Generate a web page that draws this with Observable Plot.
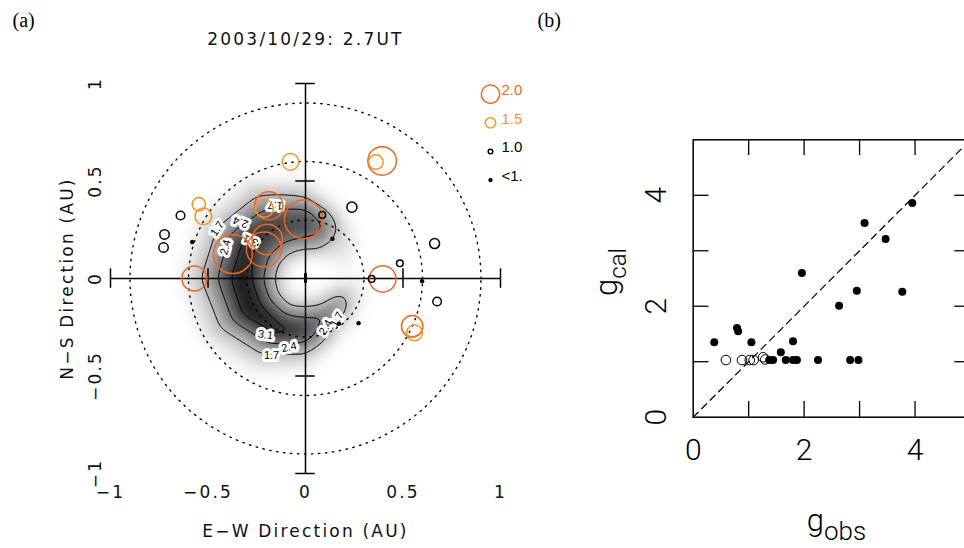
<!DOCTYPE html>
<html><head><meta charset="utf-8">
<script src="https://cdn.jsdelivr.net/npm/d3@7"></script>
<script src="https://cdn.jsdelivr.net/npm/@observablehq/plot@0.6"></script>
<style>
body{margin:0;background:#fff;}
#wrap{position:relative;width:964px;height:548px;overflow:hidden;background:#fff;}
#wrap svg{position:absolute;top:0;}
</style></head><body><div id="wrap"></div>
<script>
// ---------- Panel (a) data ----------
const titleA = "2003/10/29: 2.7UT";
const xTitleA = "E\u2212W Direction (AU)";
const yTitleA = "N\u2212S Direction (AU)";
const axTicks = [-1, -0.5, 0, 0.5, 1];
const axTickLabels = ["\u22121", "\u22120.5", "0", "0.5", "1"];
const crossTicks = [-1, -0.5, 0.5, 1];
const ringRadii = [0.3, 0.6, 0.9];

// field samples (polar layout: angle deg CCW from east, radius AU)
const fieldCenter = 0.85;
const fieldAngles = [0, 20, 40, 55, 70, 90, 120, 150, 180, 210, 240, 270, 300, 320, 335, 350];
const fieldRadii = [0.05, 0.12, 0.17, 0.22, 0.27, 0.32, 0.37, 0.43, 0.50, 0.58, 0.68];
const fieldValues = [
  [0.85,0.95,1.05,1.10,1.05,0.95,0.85,0.75,0.65,0.55,0.50],
  [0.85,0.95,1.05,1.10,1.05,0.95,0.85,0.75,0.65,0.55,0.50],
  [0.85,1.00,1.20,1.35,1.30,1.15,0.95,0.80,0.70,0.60,0.50],
  [0.85,1.05,1.35,1.55,1.60,1.45,1.15,0.90,0.75,0.60,0.50],
  [0.85,1.20,1.85,2.30,2.45,2.15,1.55,1.10,0.85,0.65,0.55],
  [0.90,1.30,1.90,2.50,2.85,2.80,2.25,1.55,1.15,0.85,0.60],
  [0.90,1.30,1.85,2.45,2.90,3.00,2.80,2.20,1.60,1.15,0.80],
  [0.90,1.30,1.80,2.40,2.85,3.20,3.25,2.60,1.85,1.30,0.90],
  [0.90,1.30,1.80,2.40,3.10,3.45,3.30,2.60,1.95,1.40,0.95],
  [0.90,1.30,1.75,2.50,3.20,3.50,3.20,2.40,1.70,1.25,0.85],
  [0.90,1.25,1.75,2.55,3.20,3.30,2.60,1.80,1.35,1.00,0.75],
  [0.90,1.35,2.00,2.70,3.05,2.50,1.85,1.30,1.00,0.80,0.60],
  [0.90,1.30,1.80,2.60,1.95,1.30,1.05,0.85,0.70,0.60,0.50],
  [0.90,1.25,1.75,2.25,1.60,1.20,0.95,0.80,0.70,0.60,0.50],
  [0.85,1.15,1.60,1.75,1.40,1.10,0.90,0.80,0.70,0.60,0.50],
  [0.85,1.00,1.20,1.30,1.20,1.00,0.85,0.75,0.65,0.55,0.50]
];
const fieldBackground = [[0.85, 0.45], [1.45, 0.40]];
const contourLevels = [1.7, 2.4, 3.1];
const contourLabels = [
  {x:-0.205, y:-0.289, t:"3.1", a:8},
  {x:-0.085, y:-0.352, t:"2.4", a:-12},
  {x:-0.174, y:-0.395, t:"1.7", a:0},
  {x:0.103, y:-0.250, t:"2.4", a:-60},
  {x:0.162, y:-0.210, t:"1.7", a:-62},
  {x:-0.453, y:0.255, t:"1.7", a:-55},
  {x:-0.333, y:0.289, t:"2.4", a:200},
  {x:-0.282, y:0.195, t:"3.1", a:205},
  {x:-0.410, y:0.160, t:"2.4", a:-75},
  {x:-0.155, y:0.375, t:"1.7", a:185}
];

// observation points (AU) and their g value
const ptX = [-0.570,-0.372,-0.213,-0.196,-0.188,-0.211,-0.009,-0.077,0.393,0.361,0.396,0.547,0.559,-0.547,-0.524,
             -0.641,-0.723,-0.728,0.238,0.662,0.484,0.339,0.675,0.086,
             -0.581,0.138,0.598,0.171,0.272];
const ptY = [0.000,0.125,0.149,0.200,0.373,0.359,0.303,0.598,0.603,0.597,-0.002,-0.245,-0.279,0.381,0.319,
             0.323,0.226,0.159,0.366,0.179,0.078,-0.002,-0.118,0.326,
             0.187,0.204,-0.014,-0.232,-0.229];
const ptG = [2.33,2.91,2.76,2.58,2.47,1.97,2.90,1.90,2.49,1.78,2.40,2.16,1.86,1.71,1.90,
             1.37,1.43,1.43,1.48,1.47,1.20,1.20,1.37,1.20,
             0.98,0.98,0.98,0.98,0.98];
const legendLabels = ["2.0", "1.5", "1.0", "<1."];
const legendG = [2.0, 1.5, 1.0, 0.98];

const RED = "#f26522", ORANGE = "#f7941d";
function kindOf(g) { return g >= 2 ? "red" : g >= 1.5 ? "orange" : g >= 1 ? "open" : "filled"; }
const kindColor = {red: RED, orange: ORANGE, open: "black", filled: "black"};

const pts = ptX.map((x, i) => ({x, y: ptY[i], g: ptG[i], k: kindOf(ptG[i])}));
const field = [{x: 0, y: 0, v: fieldCenter}];
fieldAngles.forEach((a, i) => fieldRadii.forEach((r, j) => field.push({
  x: r * Math.cos(a * Math.PI / 180), y: r * Math.sin(a * Math.PI / 180), v: fieldValues[i][j]})));
fieldBackground.forEach(([r, v]) => d3.range(0, 360, 30).forEach(a => field.push({
  x: r * Math.cos(a * Math.PI / 180), y: r * Math.sin(a * Math.PI / 180), v})));
const ringPts = ringRadii.flatMap(r => d3.range(0, 361, 1).map(a => ({r,
  x: r * Math.cos(a * Math.PI / 180), y: r * Math.sin(a * Math.PI / 180)})));

const tickHalf = 0.05;
const fontA = "'DejaVu Sans', 'Liberation Sans', sans-serif";
const txtA = {fontSize: 17, fontWeight: 400, fill: "#111", textAnchor: "middle", lineAnchor: "middle"};

const dotMarks = ["red", "orange", "open"].map(k => Plot.dot(pts.filter(d => d.k === k), {
  x: "x", y: "y", r: "g", stroke: kindColor[k], strokeWidth: 1.5, fill: "none"}));
dotMarks.push(Plot.dot(pts.filter(d => d.k === "filled"), {x: "x", y: "y", r: "g", fill: "black"}));

const legendMarks = legendLabels.flatMap((lab, i) => {
  const k = kindOf(legendG[i]);
  const dy = 10.8 + i * 28.6;
  return [
    Plot.dot([legendG[i]], {frameAnchor: "top-right", dx: -10, dy, r: d => d,
      stroke: k === "filled" ? "none" : kindColor[k], strokeWidth: 1.5, fill: k === "filled" ? "black" : "none"}),
    Plot.text([lab], {frameAnchor: "top-right", dx: 1, dy: dy - 4, text: d => d, textAnchor: "start",
      lineAnchor: "middle", fill: kindColor[k], fontSize: 15, fontFamily: "'Liberation Sans', sans-serif"})
  ];
});

const plotA = Plot.plot({
  width: 560, height: 548,
  marginLeft: 110, marginRight: 60, marginTop: 83, marginBottom: 75,
  x: {domain: [-1, 1], axis: null},
  y: {domain: [-1, 1], axis: null},
  color: {type: "linear", domain: [1.0, 3.45], range: ["#ffffff", "#161616"], clamp: true},
  r: {type: "pow", exponent: 2, domain: [0, 2], range: [0, 9.2]},
  style: {fontFamily: fontA, background: "transparent", overflow: "visible"},
  marks: [
    Plot.raster(field, {x: "x", y: "y", fill: "v", interpolate: "barycentric", pixelSize: 1, blur: 5}),
    Plot.contour(field, {x: "x", y: "y", value: "v", interpolate: "barycentric", thresholds: contourLevels,
      pixelSize: 2, blur: 2, fill: "none", stroke: "black", strokeWidth: 1}),
    Plot.text(contourLabels, {x: "x", y: "y", text: "t", rotate: "a", fontSize: 11,
      fontFamily: "'Liberation Sans', sans-serif", fill: "white", stroke: "white", strokeWidth: 6}),
    Plot.text(contourLabels, {x: "x", y: "y", text: "t", rotate: "a", fontSize: 11,
      fontFamily: "'Liberation Sans', sans-serif", fill: "black"}),
    Plot.line(ringPts, {x: "x", y: "y", z: "r", stroke: "black", strokeWidth: 1.4, strokeDasharray: "1.4 5.6"}),
    Plot.ruleY([0], {x1: -1, x2: 1, stroke: "black", strokeWidth: 1.5}),
    Plot.ruleX([0], {y1: -1, y2: 1, stroke: "black", strokeWidth: 1.5}),
    Plot.ruleX(crossTicks, {x: d => d, y1: -tickHalf, y2: tickHalf, stroke: "black", strokeWidth: 1.5}),
    Plot.ruleY(crossTicks, {y: d => d, x1: -tickHalf, x2: tickHalf, stroke: "black", strokeWidth: 1.5}),
    Plot.ruleX([0], {x: d => d, y1: -0.025, y2: 0.025, stroke: "black", strokeWidth: 3}),
    ...dotMarks,
    ...legendMarks,
    Plot.text(axTicks, {x: d => d, frameAnchor: "bottom", dy: 19, text: (d, i) => axTickLabels[i], ...txtA}),
    Plot.text(axTicks, {y: d => d, frameAnchor: "left", dx: -15, rotate: -90, text: (d, i) => axTickLabels[i], ...txtA}),
    Plot.text([xTitleA], {frameAnchor: "bottom", dy: 58, text: d => d, ...txtA}),
    Plot.text([yTitleA], {frameAnchor: "left", dx: -43, rotate: -90, text: d => d, ...txtA}),
    Plot.text([titleA], {frameAnchor: "top", dy: -44, text: d => d, ...txtA}),
    Plot.text(["(a)"], {frameAnchor: "top-left", dx: -98, dy: -63, text: d => d, fontSize: 20,
      textAnchor: "start", lineAnchor: "middle", fontFamily: "'Liberation Serif', 'DejaVu Serif', serif"})
  ]
});
plotA.style.left = "0px";
// wide glyph spacing of the original's plot font for title, axis titles and tick labels
const spaced = new Set([titleA, xTitleA, yTitleA, ...axTickLabels]);
d3.select(plotA).selectAll("text").each(function() {
  if (spaced.has(this.textContent)) this.setAttribute("letter-spacing", "2.2px");
});

// ---------- Panel (b) data ----------
const gObsFilled = [0.38,0.79,0.81,1.05,1.37,1.44,1.58,1.67,1.80,1.80,1.87,1.96,2.25,2.63,2.83,2.95,2.98,3.09,3.47,3.77,3.95];
const gCalFilled = [1.35,1.61,1.55,1.35,1.03,1.03,1.17,1.03,1.37,1.03,1.03,2.60,1.03,2.01,1.03,2.28,1.03,3.50,3.21,2.26,3.86];
const gObsOpen = [0.59,0.88,1.02,1.09,1.26,1.30];
const gCalOpen = [1.03,1.03,1.03,1.03,1.08,1.04];
const bDomain = [0, 5];
const bTicks = [1, 2, 3, 4];
const bLabelTicks = [0, 2, 4];
const bLabels = ["0", "2", "4"];

const mB = {left: 132.7, right: 10, top: 139.3, bottom: 131.3};
const wB = 420, hB = 548;
const fwB = wB - mB.left - mB.right, fhB = hB - mB.top - mB.bottom;
const tickLenB = 15.7;
const fontB = "Roboto, 'Liberation Sans', sans-serif";
const txtB = {fontSize: 30, fontWeight: 300, textAnchor: "middle", lineAnchor: "middle"};

const plotB = Plot.plot({
  width: wB, height: hB,
  marginLeft: mB.left, marginRight: mB.right, marginTop: mB.top, marginBottom: mB.bottom,
  x: {domain: bDomain, axis: null},
  y: {domain: bDomain, axis: null},
  style: {fontFamily: fontB, background: "transparent", overflow: "visible"},
  marks: [
    Plot.frame({stroke: "black", strokeWidth: 1.5}),
    Plot.tickX(bTicks, {x: d => d, insetTop: fhB - tickLenB, stroke: "black", strokeWidth: 1.3}),
    Plot.tickX(bTicks, {x: d => d, insetBottom: fhB - tickLenB, stroke: "black", strokeWidth: 1.3}),
    Plot.tickY(bTicks, {y: d => d, insetRight: fwB - tickLenB, stroke: "black", strokeWidth: 1.3}),
    Plot.tickY(bTicks, {y: d => d, insetLeft: fwB - tickLenB, stroke: "black", strokeWidth: 1.3}),
    Plot.line(bDomain.map(v => [v, v]), {stroke: "black", strokeWidth: 1.2, strokeDasharray: "7 5"}),
    Plot.dot(gObsOpen, {x: d => d, y: (d, i) => gCalOpen[i], r: 4.8, stroke: "black", strokeWidth: 1, fill: "none"}),
    Plot.dot(gObsFilled, {x: d => d, y: (d, i) => gCalFilled[i], r: 4, fill: "black"}),
    Plot.text(bLabelTicks, {x: d => d, frameAnchor: "bottom", dy: 33, text: (d, i) => bLabels[i], ...txtB}),
    Plot.text(bLabelTicks, {y: d => d, frameAnchor: "left", dx: -37, rotate: -90, text: (d, i) => bLabels[i], ...txtB}),
    Plot.text(["(b)"], {frameAnchor: "top-left", dx: -155.7, dy: -119.3, text: d => d, fontSize: 20,
      textAnchor: "start", lineAnchor: "middle", fontFamily: "'Liberation Serif', 'DejaVu Serif', serif"})
  ]
});
plotB.style.left = "560px";

// subscripted axis titles for (b)
const sB = d3.select(plotB);
const gx = sB.append("text").attr("x", 276.5).attr("y", 531).attr("text-anchor", "middle")
  .attr("font-family", fontB).attr("font-weight", 300).attr("fill", "black");
gx.append("tspan").attr("font-size", 31).text("g");
gx.append("tspan").attr("font-size", 26).attr("dy", 9).text("obs");
const gy = sB.append("text").attr("transform", "translate(57,272) rotate(-90)").attr("text-anchor", "middle")
  .attr("font-family", fontB).attr("font-weight", 300).attr("fill", "black");
gy.append("tspan").attr("font-size", 31).text("g");
gy.append("tspan").attr("font-size", 24).attr("dy", 9).text("cal");

const wrap = document.getElementById("wrap");
wrap.appendChild(plotA);
wrap.appendChild(plotB);
</script></body></html>
